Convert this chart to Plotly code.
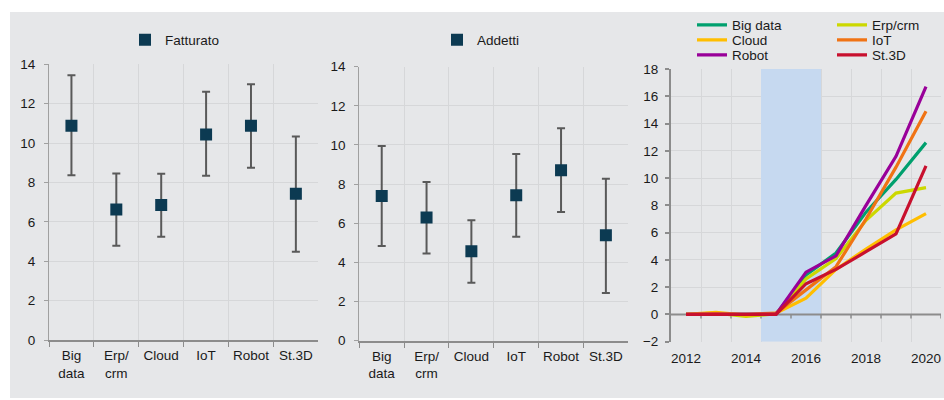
import plotly.graph_objects as go

# ---------------- data ----------------
categories = ["Big<br>data", "Erp/<br>crm", "Cloud", "IoT", "Robot", "St.3D"]

fatt_mid = [10.88, 6.63, 6.85, 10.44, 10.88, 7.43]
fatt_hi = [13.45, 8.46, 8.44, 12.60, 12.99, 10.34]
fatt_lo = [8.36, 4.79, 5.24, 8.34, 8.75, 4.48]

add_mid = [7.39, 6.30, 4.57, 7.43, 8.71, 5.39]
add_hi = [9.95, 8.11, 6.15, 9.54, 10.85, 8.28]
add_lo = [4.84, 4.45, 2.96, 5.31, 6.58, 2.44]

years = [2012, 2013, 2014, 2015, 2016, 2017, 2018, 2019, 2020]
year_ticks = [2012, 2014, 2016, 2018, 2020]
big_data = [0, 0, 0, 0, 2.9, 4.5, 7.5, 9.9, 12.6]
erp_crm = [0, 0.1, -0.15, 0.05, 2.6, 4.1, 6.9, 8.9, 9.3]
cloud = [0, 0.15, -0.05, 0.1, 1.2, 3.3, 4.8, 6.2, 7.4]
iot = [0, 0.05, 0, 0.1, 1.8, 3.5, 7.0, 10.8, 14.9]
robot = [0, 0, 0, 0, 3.1, 4.3, 8.0, 11.6, 16.7]
st3d = [0, 0, 0, 0, 2.25, 3.3, 4.6, 5.9, 10.9]
shade_years = [2014.5, 2016.5]
right_range = [-2, 18]
right_xrange = [2011.5, 2020.5]

# name, values, colour, legend id, legend left px, legend row centre px
line_series = [
    ("Big data", big_data, "#00A06E", "legend3", 692, 25),
    ("Erp/crm", erp_crm, "#CCD800", "legend4", 832, 25),
    ("Cloud", cloud, "#FFBE00", "legend5", 692, 40),
    ("IoT", iot, "#F07314", "legend6", 832, 40),
    ("Robot", robot, "#990099", "legend7", 692, 55),
    ("St.3D", st3d, "#C8102E", "legend8", 832, 55),
]

# ---------------- style ----------------
W, H = 944, 400
FONT = "Liberation Sans, Arial, sans-serif"
FS = 13.5
BG = "#E6E7E9"
GRID = "#D6D7D9"
AXIS = "#8C8C8C"
MARK = "#0C3A52"
TXT = "#1A1A1A"

fig = go.Figure()


def err(mid, hi, lo):
    return dict(type="data", symmetric=False,
                array=[h - m for h, m in zip(hi, mid)],
                arrayminus=[m - l for m, l in zip(mid, lo)],
                color="#595959", thickness=2, width=4)


fig.add_trace(go.Scatter(x=categories, y=fatt_mid, mode="markers", name="Fatturato",
                         marker=dict(symbol="square", size=12, color=MARK),
                         error_y=err(fatt_mid, fatt_hi, fatt_lo),
                         xaxis="x", yaxis="y", legend="legend"))
fig.add_trace(go.Scatter(x=categories, y=add_mid, mode="markers", name="Addetti",
                         marker=dict(symbol="square", size=12, color=MARK),
                         error_y=err(add_mid, add_hi, add_lo),
                         xaxis="x2", yaxis="y2", legend="legend2"))

legend_layouts = {}
for name, vals, col, lg, lx, ly in line_series:
    fig.add_trace(go.Scatter(x=years, y=vals, mode="lines", name=name,
                             line=dict(color=col, width=3.2),
                             xaxis="x3", yaxis="y3", legend=lg))
    legend_layouts[lg] = dict(x=lx / W, y=1 - ly / H, xanchor="left", yanchor="middle",
                              bgcolor="rgba(0,0,0,0)", font=dict(size=FS),
                              itemclick=False, borderwidth=0)

# background panel
fig.add_shape(type="rect", xref="paper", yref="paper",
              x0=10 / W, x1=1.0, y0=1 - 398 / H, y1=1 - 12 / H,
              fillcolor=BG, line=dict(width=0), layer="below")
# shaded period
fig.add_shape(type="rect", xref="x3", yref="y3",
              x0=shade_years[0], x1=shade_years[1], y0=right_range[0], y1=right_range[1],
              fillcolor="#C6D9F0", line=dict(width=0), layer="between")
# horizontal axis crossing at zero (above the shaded band, below the lines)
fig.add_shape(type="line", xref="x3", yref="y3", x0=right_xrange[0], x1=right_xrange[1],
              y0=0, y1=0, line=dict(color=AXIS, width=2), layer="between")
# tick marks on the zero line of the right chart (category boundaries)
for yv in years:
    b = yv + 0.5
    fig.add_shape(type="line", xref="x3", yref="y3", x0=b, x1=b, y0=0, y1=-0.3,
                  line=dict(color=AXIS, width=1.5), layer="between")

cat_x = dict(type="category", tickson="boundaries", ticks="outside", ticklen=5,
             tickcolor=AXIS, tickwidth=1, showgrid=True, gridcolor=GRID, gridwidth=1,
             showline=True, linecolor=AXIS, linewidth=2, range=[-0.5, 5.5],
             tickangle=0,
             tickfont=dict(size=FS, color=TXT, family=FONT), ticklabelstandoff=2,
             zeroline=False, fixedrange=True)
left_y = dict(range=[0, 14], dtick=2, showgrid=True, gridcolor=GRID, gridwidth=1,
              showline=True, linecolor="#A0A0A0", linewidth=1, ticks="outside",
              ticklen=4, tickcolor="#A0A0A0", zeroline=False,
              tickfont=dict(size=FS, color=TXT, family=FONT), ticklabelstandoff=6)

fig.update_layout(
    width=W, height=H,
    margin=dict(l=0, r=0, t=0, b=0, autoexpand=False),
    paper_bgcolor="white", plot_bgcolor=BG,
    font=dict(family=FONT, size=FS, color=TXT),
    xaxis=dict(cat_x, domain=[49 / W, 318.3 / W], anchor="y"),
    yaxis=dict(left_y, domain=[1 - 340 / H, 1 - 64.3 / H], anchor="x"),
    xaxis2=dict(cat_x, domain=[359.3 / W, 628.3 / W], anchor="y2"),
    yaxis2=dict(left_y, domain=[1 - 340.7 / H, 1 - 66.7 / H], anchor="x2"),
    xaxis3=dict(domain=[671 / W, 941 / W], anchor="y3", range=right_xrange,
                tickmode="array", tickvals=year_ticks, showgrid=False,
                showline=False, zeroline=False, ticks="", tickangle=0,
                ticklabelstandoff=7,
                minor=dict(tickmode="array", tickvals=[y + 0.5 for y in years],
                           showgrid=True, gridcolor=GRID, gridwidth=1, ticks=""),
                tickfont=dict(size=FS, color=TXT, family=FONT)),
    yaxis3=dict(domain=[1 - 341.7 / H, 1 - 69 / H], anchor="x3", range=right_range,
                dtick=2, showgrid=True, gridcolor=GRID, gridwidth=1,
                showline=True, linecolor=AXIS, linewidth=2, ticks="outside",
                ticklen=4, tickcolor=AXIS, tickwidth=1.5, zeroline=False,
                tickfont=dict(size=FS, color=TXT, family=FONT), ticklabelstandoff=4),
    showlegend=True,
    legend=dict(x=125 / W, y=1 - 40 / H, xanchor="left", yanchor="middle",
                bgcolor="rgba(0,0,0,0)", font=dict(size=FS), itemclick=False),
    legend2=dict(x=437 / W, y=1 - 40 / H, xanchor="left", yanchor="middle",
                 bgcolor="rgba(0,0,0,0)", font=dict(size=FS), itemclick=False),
    **legend_layouts,
)

fig.write_html("out.html", config={"displayModeBar": False},
               post_script="document.body.style.margin='0px';")
